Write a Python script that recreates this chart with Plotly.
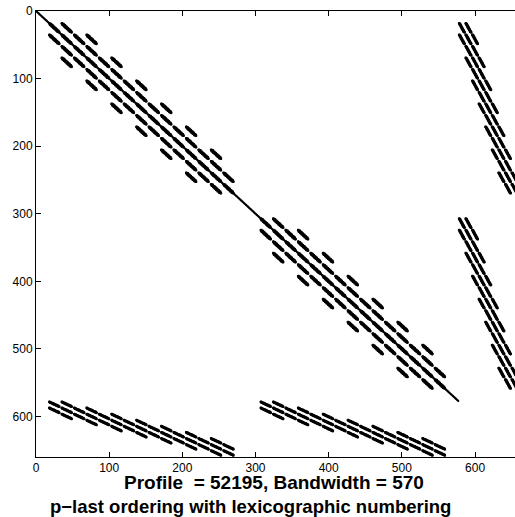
import plotly.graph_objects as go

# ---- values (Taylor-Hood Q2-Q1 Stokes matrix spy plot) ----
elements_per_side = 8            # 8 x 8 element mesh
vel_nodes_per_side = 17          # Q2 velocity nodes per side
pres_nodes_per_side = 9          # Q1 pressure nodes per side
block_starts = [0, 289, 578]     # first row/column of u, v and p blocks ("p-last" ordering)
matrix_size = 659
x_ticks = [0, 100, 200, 300, 400, 500, 600]
y_ticks = [0, 100, 200, 300, 400, 500, 600]
x_range = [0, 654.6]             # right part of the frame is cut off in the picture
y_range = [660, 0]
label_lines = ["Profile  = 52195, Bandwidth = 570",
               "p\u2212last ordering with lexicographic numbering"]

# ---- sparsity pattern built from the element connectivity ----
nv = vel_nodes_per_side
npn = pres_nodes_per_side
u0, v0, p0 = block_starts


def is_interior(i, j):
    return 1 <= i <= nv - 2 and 1 <= j <= nv - 2


nonzeros = set()
for ey in range(elements_per_side):
    for ex in range(elements_per_side):
        vnodes = [i + nv * j
                  for j in range(2 * ey, 2 * ey + 3)
                  for i in range(2 * ex, 2 * ex + 3)
                  if is_interior(i, j)]
        pnodes = [I + npn * J for J in (ey, ey + 1) for I in (ex, ex + 1)]
        for a in vnodes:
            for b in vnodes:
                nonzeros.add((u0 + a, u0 + b))
                nonzeros.add((v0 + a, v0 + b))
        for p in pnodes:
            for a in vnodes:
                for s in (u0, v0):
                    nonzeros.add((p0 + p, s + a))
                    nonzeros.add((s + a, p0 + p))
for k in range(p0):               # Dirichlet rows keep their diagonal entry
    nonzeros.add((k, k))

rows = [r for r, c in nonzeros]
cols = [c for r, c in nonzeros]

fig = go.Figure()
fig.add_trace(go.Scatter(
    x=cols, y=rows, mode="markers",
    marker=dict(size=2.2, color="black", line=dict(width=0)),
    hoverinfo="skip", showlegend=False,
))

axis_font = dict(family="Liberation Sans, Arial, sans-serif", size=12, color="black")
fig.update_xaxes(
    range=x_range, tickvals=x_ticks, ticktext=[str(t) for t in x_ticks],
    showgrid=False, zeroline=False, showline=True, linecolor="black", linewidth=1,
    mirror="ticks", ticks="inside", ticklen=5, tickcolor="black",
    tickfont=axis_font, automargin=False,
)
fig.update_yaxes(
    range=y_range, tickvals=y_ticks, ticktext=[str(t) for t in y_ticks],
    showgrid=False, zeroline=False, showline=True, linecolor="black", linewidth=1,
    mirror=False, ticks="inside", ticklen=5, tickcolor="black",
    tickfont=axis_font, automargin=False,
)

fig.add_annotation(text="<b>%s</b>" % label_lines[0], xref="paper", yref="paper",
                   x=0.497, y=-0.058, xanchor="center", yanchor="middle",
                   showarrow=False,
                   font=dict(family="Liberation Sans, Arial, sans-serif", size=19, color="black"))
fig.add_annotation(text="<b>%s</b>" % label_lines[1], xref="paper", yref="paper",
                   x=0.447, y=-0.110, xanchor="center", yanchor="middle",
                   showarrow=False,
                   font=dict(family="Liberation Sans, Arial, sans-serif", size=18.5, color="black"))

fig.update_layout(
    width=515, height=517,
    margin=dict(l=36, r=0, t=11, b=60, autoexpand=False),
    paper_bgcolor="white", plot_bgcolor="white",
)
fig.write_html("out.html",
               config={"displayModeBar": False},
               post_script="document.body.style.margin='0';document.body.style.overflow='hidden';")
